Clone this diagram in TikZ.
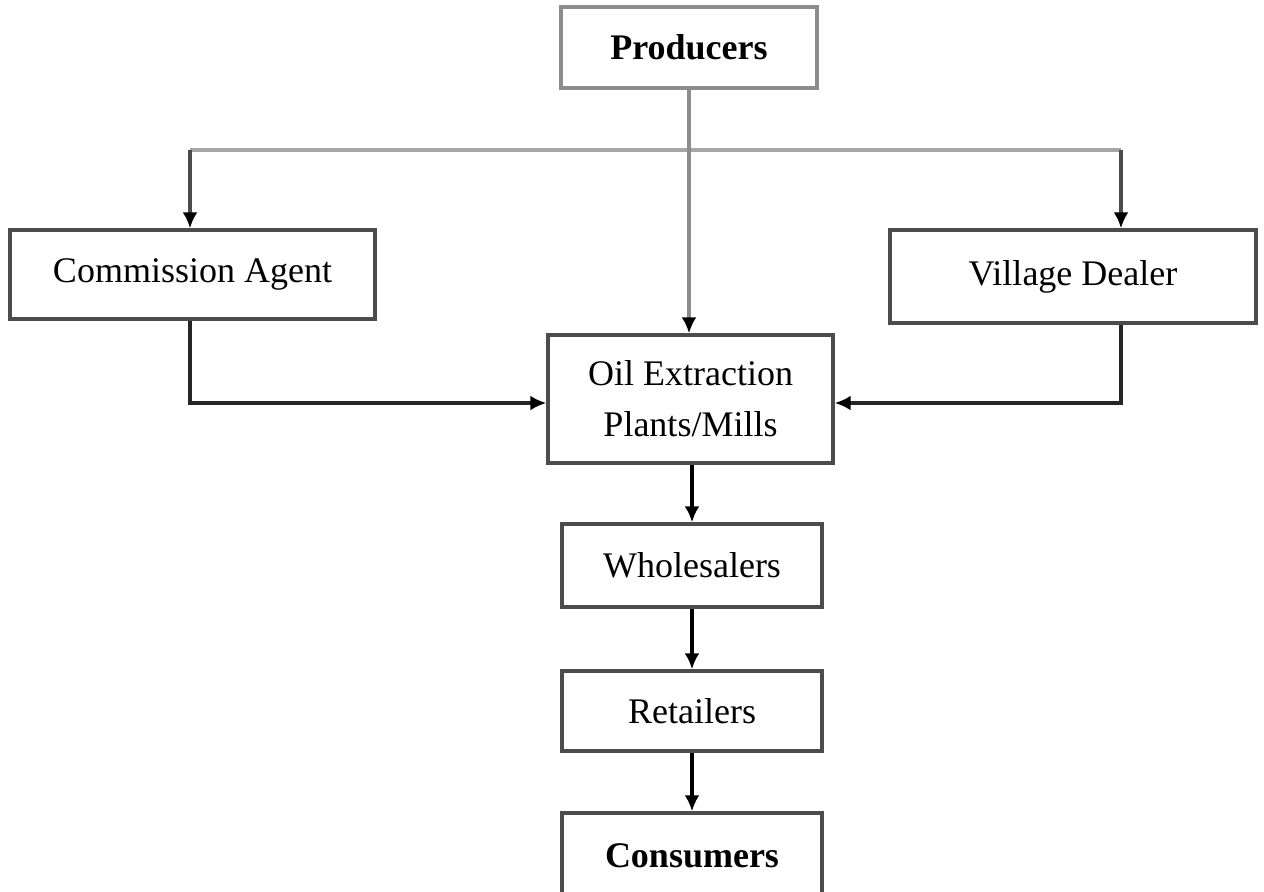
\documentclass[tikz,border=0pt]{standalone}
\usepackage{fontspec}
\setmainfont{Liberation Serif}
\usetikzlibrary{arrows.meta,positioning}

\tikzset{
  stage/.style={draw=black!70, line width=1.7pt, fill=white, align=center,
    font=\fontsize{18}{22}\selectfont, inner sep=0pt},
  flow/.style={line width=1.6pt, -{Latex[length=8pt,width=7.5pt,color=black]}},
}

\begin{document}
\begin{tikzpicture}[x=0.5pt, y=-0.5pt]
      %% \draw [help lines] (0,0) grid [step=100] (1264,891);
      \useasboundingbox [fill=white] (0,0) rectangle (1264,891);

      \node [stage, draw=black!45, minimum width=128pt, minimum height=40.5pt,
             font=\fontsize{18}{22}\selectfont\bfseries] (prod) at (689,47.5) {Producers};
      \node [stage, minimum width=182.5pt, minimum height=44.5pt] (agent) at (192.5,274.5) {Commission Agent};
      \node [stage, minimum width=183pt, minimum height=46.5pt] (dealer) at (1073,276.5) {Village Dealer};
      \node [stage, minimum width=142.5pt, minimum height=64pt] (oil) at (690.5,399)
            {\raisebox{-3pt}{\parbox{140pt}{\centering Oil Extraction\\[3.5pt]Plants/Mills}}};
      \node [stage, minimum width=130pt, minimum height=41.5pt] (whole) at (692,565.5) {Wholesalers};
      \node [stage, minimum width=130pt, minimum height=40pt] (retail) at (692,711) {Retailers};
      \node [stage, minimum width=130pt, minimum height=43pt,
             font=\fontsize{18}{22}\selectfont\bfseries] (cons) at (692,856) {Consumers};

      %% split from producers
      \coordinate (jl) at (190,150);
      \coordinate (jr) at (1121,150);
      \draw [line width=1.6pt, black!35] (jl) -- (jr);
      \draw [flow, black!45] (prod.south) -- (prod.south |- oil.north);
      \draw [flow, black!70] (jl) -- (jl |- agent.north);
      \draw [flow, black!70] (jr) -- (jr |- dealer.north);

      %% into the mills
      \draw [flow, black!85] (jl |- agent.south) |- ([yshift=-2pt]oil.west);
      \draw [flow, black!85] (jr |- dealer.south) |- ([yshift=-2pt]oil.east);

      \draw [flow, black] (whole.north |- oil.south) -- (whole.north);
      \draw [flow, black] (whole) -- (retail);
      \draw [flow, black] (retail) -- (cons);
\end{tikzpicture}
\end{document}
